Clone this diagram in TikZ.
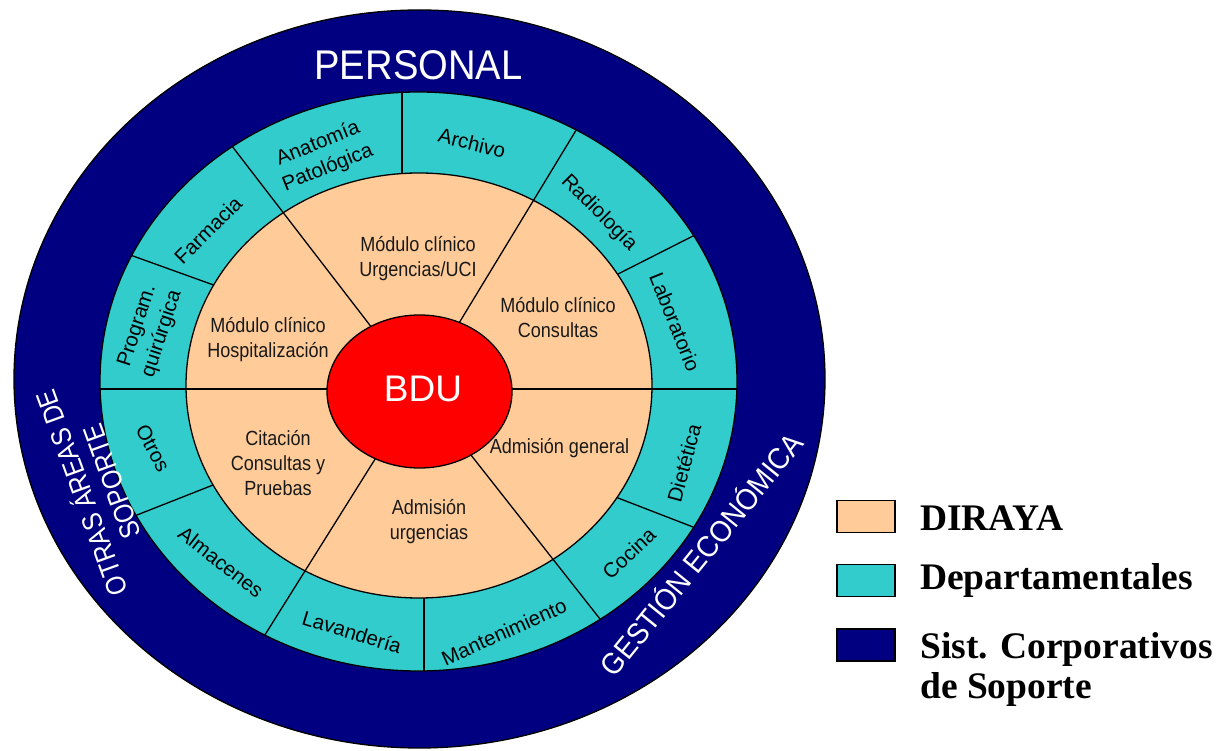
\documentclass[tikz,border=0pt]{standalone}
\usepackage{fontspec}
\setmainfont{Liberation Serif}
\newfontfamily\narrowsf[FakeStretch=0.88]{Liberation Sans}
\newfontfamily\plainsf{Liberation Sans}
\newfontfamily\headsf[FakeStretch=0.92]{Liberation Sans}
\usepackage{tikz}
\usetikzlibrary{calc, positioning}
\definecolor{CorpNavy}{HTML}{000080}
\definecolor{DeptTeal}{HTML}{33CCCC}
\definecolor{DirayaPeach}{HTML}{FFCC99}
\definecolor{BduRed}{HTML}{FF0000}
\tikzset{
  ring/.style={draw=black, line width=1.3pt},
  divider/.style={draw=black, line width=1.3pt},
  modlabel/.style={font=\narrowsf\fontsize{20.5}{25}\selectfont, text=black!90, align=center, inner sep=0pt},
  deptlabel/.style={font=\plainsf\fontsize{20.5}{26}\selectfont, align=center, inner sep=0pt},
  bandlabel/.style={text=white, align=center, inner sep=0pt},
  legbox/.style={rectangle, draw=black, line width=1.3pt, minimum width=58pt, minimum height=32pt, inner sep=0pt},
  legtext/.style={font=\bfseries\fontsize{37.5}{40}\selectfont, anchor=base west, inner sep=0pt}
}

\begin{document}
\begin{tikzpicture}[x=1pt, y=1pt]
  \useasboundingbox (0,0) rectangle (1221,750);
  \coordinate (hub) at (419,361);

  % rings
  \path[ring, fill=CorpNavy] (419.5,371) ellipse [x radius=405.5pt, y radius=369pt];
  \path[ring, fill=DeptTeal] (418.5,368.5) ellipse [x radius=318.5pt, y radius=289.5pt];
  \begin{scope}
    \clip (418.5,368.5) ellipse [x radius=318.5pt, y radius=289.5pt];
    \foreach \xa/\ya/\xb/\yb in {402/577/402/658, 620/477/693/514, 133/494/208/467,
                                 137/235/208/263, 424/152/424/79, 618/252/693/223}
      \draw[divider] ($(\xa,\ya)!-0.5!(\xb,\yb)$) -- ($(\xa,\ya)!1.5!(\xb,\yb)$);
  \end{scope}
  \path[ring, fill=DirayaPeach] (419,364.5) ellipse [x radius=233pt, y radius=212.5pt];
  \begin{scope}
    \clip (418.5,368.5) ellipse [x radius=318.5pt, y radius=289.5pt];
    \foreach \px/\py in {235/600, 575/618, 100/361, 737/361, 263/112, 600/131}
      \draw[divider] (hub) -- ($(hub)!1.5!(\px,\py)$);
  \end{scope}
  \path[ring, fill=BduRed] (419.5,358.5) ellipse [x radius=92.5pt, y radius=76.5pt];

  % band texts
  \node[bandlabel, font=\headsf\fontsize{41.5}{45}\selectfont, anchor=base] (personal) at (418.5,670) {PERSONAL};
  \node[bandlabel, font=\narrowsf\fontsize{28}{32}\selectfont, rotate=110] (otras) at (95,262) {OTRAS ÁREAS DE\\SOPORTE};
  \node[bandlabel, font=\headsf\fontsize{30}{34}\selectfont, rotate=51] (gestion) at (700,197) {GESTIÓN ECONÓMICA};
  \node[bandlabel, font=\plainsf\fontsize{37}{40}\selectfont, anchor=base] (bdu) at (423,348) {BDU};

  % DIRAYA modules
  \node[modlabel] (urgmod) at (418,491) {Módulo clínico\\Urgencias/UCI};
  \node[modlabel] (hospmod) at (268,410) {Módulo clínico\\Hospitalización};
  \node[modlabel] (consmod) at (558,432) {Módulo clínico\\Consultas};
  \node[modlabel] (citmod) at (278,287) {Citación\\Consultas y\\Pruebas};
  \node[modlabel] (admurg) at (429,228) {Admisión\\urgencias};
  \node[modlabel] (admgen) at (559.5,302) {Admisión general};

  % departmental systems
  \node[deptlabel, rotate=22] (anat) at (323,594) {Anatomía\\Patológica};
  \node[deptlabel, rotate=-14] (archivo) at (472,607) {Archivo};
  \node[deptlabel, rotate=-45] (radio) at (599,537) {Radiología};
  \node[deptlabel, rotate=-68] (lab) at (675,428) {Laboratorio};
  \node[deptlabel, rotate=75] (diet) at (684,287) {Dietética};
  \node[deptlabel, rotate=43] (cocina) at (629,197) {Cocina};
  \node[deptlabel, rotate=24] (mant) at (504,118) {Mantenimiento};
  \node[deptlabel, rotate=-17] (lav) at (352,118) {Lavandería};
  \node[deptlabel, rotate=-38] (alm) at (221,188) {Almacenes};
  \node[deptlabel, rotate=-62] (otros) at (153,302) {Otros};
  \node[deptlabel, rotate=72] (prog) at (150,420) {Program.\\quirúrgica};
  \node[deptlabel, rotate=45] (farm) at (208,520) {Farmacia};

  % legend
  \node[legbox, fill=DirayaPeach] (kdiraya) at (866,233.5) {};
  \node[legbox, fill=DeptTeal] (kdept) at (866,169.5) {};
  \node[legbox, fill=CorpNavy] (kcorp) at (866,105) {};
  \node[legtext] (tdiraya) at (920,219) {DIRAYA};
  \node[legtext] (tdept) at (920,160) {Departamentales};
  \node[legtext] (tcorp) at (920,92) {Sist. Corporativos};
  \node[legtext] (tsoporte) at (920,52) {de Soporte};
\end{tikzpicture}
\end{document}
